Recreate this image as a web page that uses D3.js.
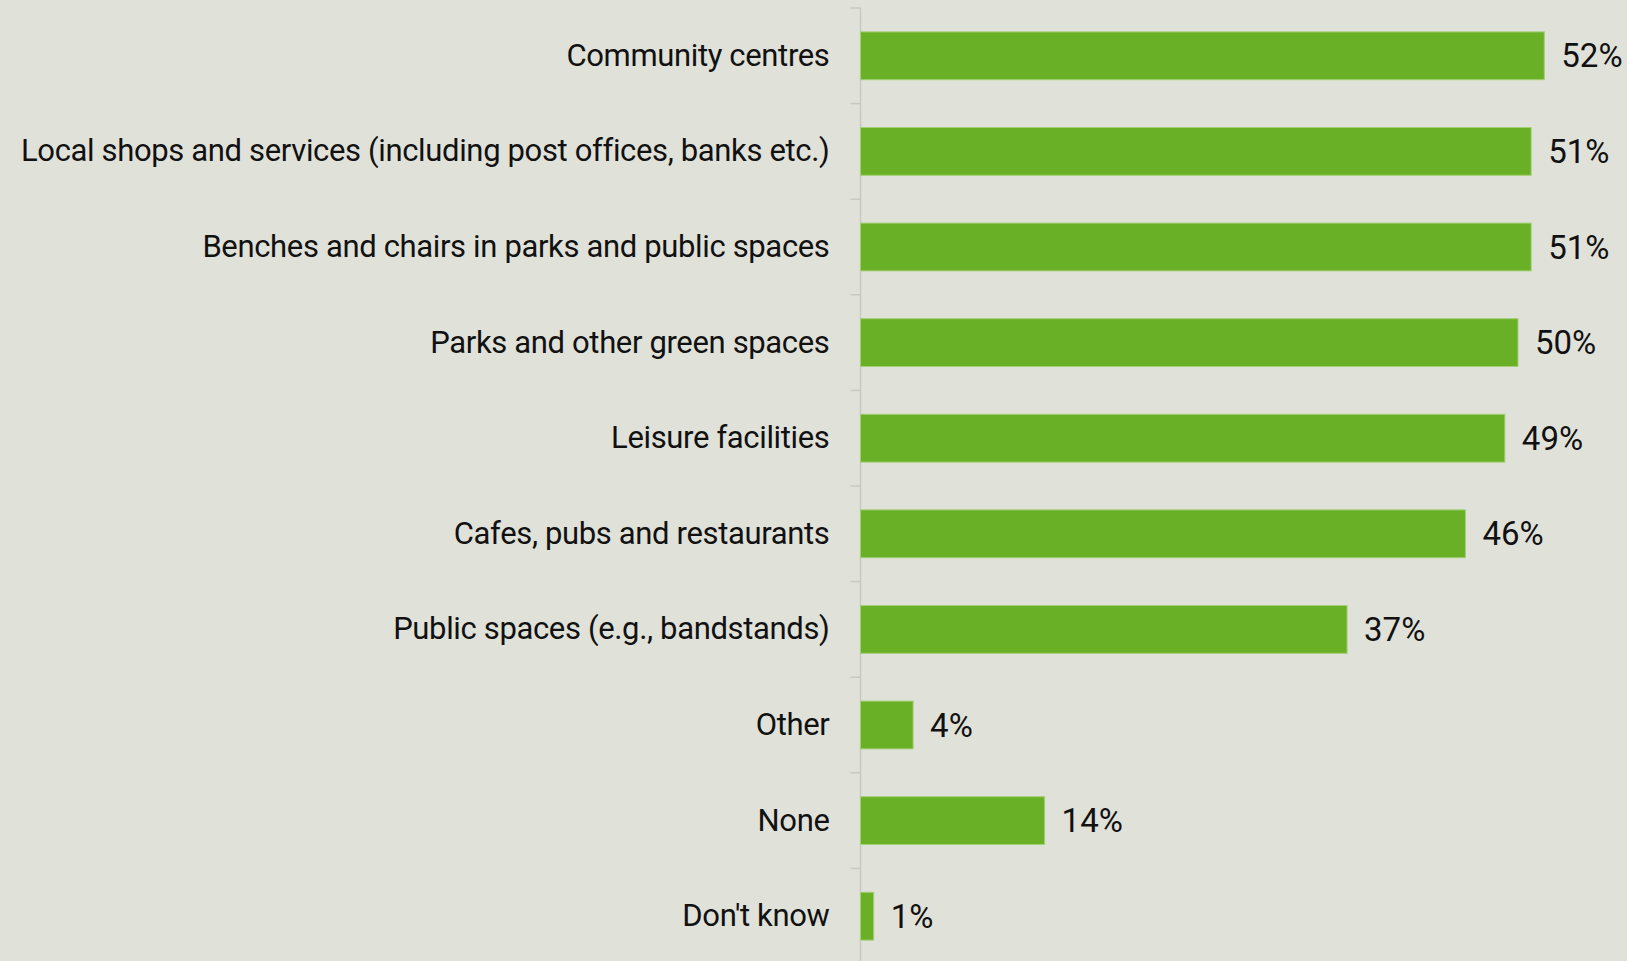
<!DOCTYPE html>
<html><head><meta charset="utf-8">
<script src="https://cdn.jsdelivr.net/npm/d3@7"></script>
<style>
html,body{margin:0;padding:0;background:#e0e1d9;}
svg{display:block;}
text{font-family:Roboto,"Noto Sans",sans-serif;fill:#111;}
</style></head><body>
<svg id="c" width="1627" height="961"></svg>
<script>
const categories = ["Community centres","Local shops and services (including post offices, banks etc.)","Benches and chairs in parks and public spaces","Parks and other green spaces","Leisure facilities","Cafes, pubs and restaurants","Public spaces (e.g., bandstands)","Other","None","Don't know"];
const values = [52,51,51,50,49,46,37,4,14,1];
const labels = values.map(v => v + "%");

const svg = d3.select("#c");
const x0 = 860.5;
const x = d3.scaleLinear().domain([0, 58]).range([x0, x0 + 13.15*58]);
const y = d3.scaleBand().domain(categories).range([8, 964]).paddingInner(0.5).paddingOuter(0.25);

const axis = d3.axisLeft(y).tickSize(0).tickPadding(31);
const g = svg.append("g").attr("transform", `translate(${x0},0)`).call(axis);
g.select(".domain").remove();
g.selectAll("text").style("font-size","31px").style("letter-spacing","-0.35px").attr("fill","#111").attr("font-family","Roboto");

svg.append("line").attr("x1",x0).attr("x2",x0).attr("y1",8).attr("y2",961).attr("stroke","#c8c9c4").attr("stroke-width",1.5);
svg.selectAll("line.tk").data(categories).enter().append("line")
  .attr("x1",x0-10).attr("x2",x0)
  .attr("y1",d => y(d) - y.step()*0.25).attr("y2",d => y(d) - y.step()*0.25)
  .attr("stroke","#c8c9c4").attr("stroke-width",1.5);

svg.selectAll("rect.bar").data(categories).enter().append("rect")
  .attr("x", x(0)).attr("y", d => y(d))
  .attr("width", (d,i) => x(values[i]) - x(0))
  .attr("height", y.bandwidth())
  .attr("fill","#6ab026").attr("stroke","#a3cf75").attr("stroke-width",1);

svg.selectAll("text.val").data(categories).enter().append("text")
  .attr("x",(d,i) => x(values[i]) + 17)
  .attr("y", d => y(d) + y.bandwidth()/2)
  .attr("dy","0.35em")
  .style("font-size","33px")
  .text((d,i) => labels[i]);
</script>
</body></html>
